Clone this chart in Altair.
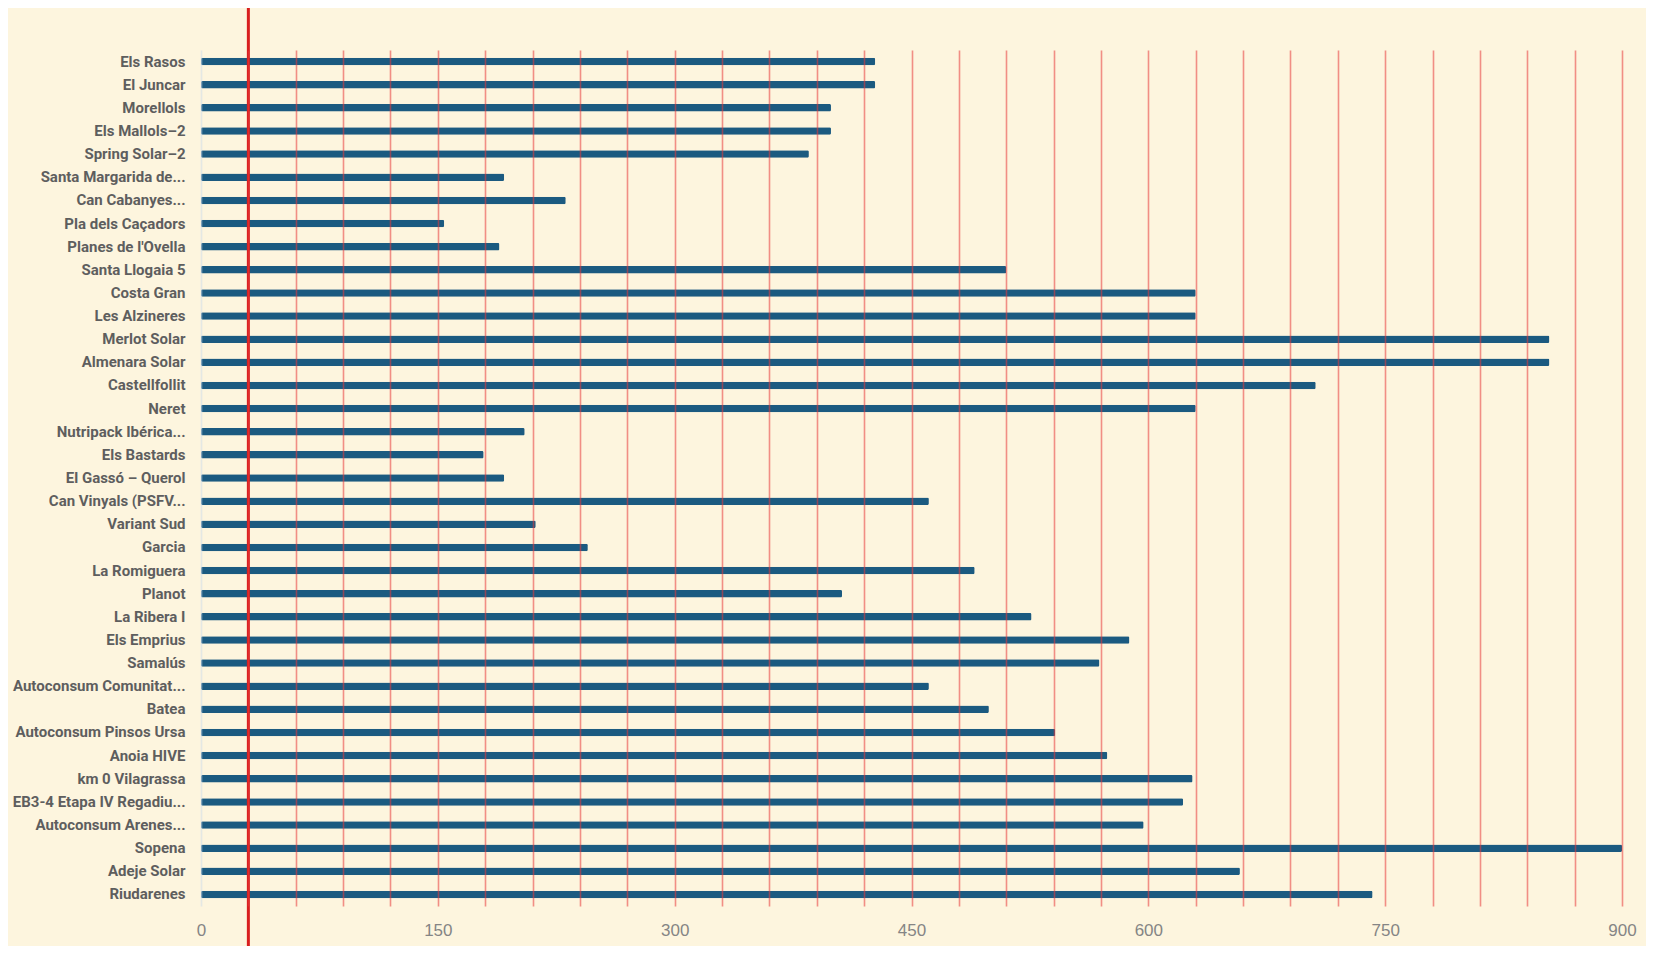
import altair as alt
import pandas as pd

plants = [
    "Els Rasos", "El Juncar", "Morellols", "Els Mallols–2", "Spring Solar–2",
    "Santa Margarida de...", "Can Cabanyes...", "Pla dels Caçadors", "Planes de l'Ovella",
    "Santa Llogaia 5", "Costa Gran", "Les Alzineres", "Merlot Solar", "Almenara Solar",
    "Castellfollit", "Neret", "Nutripack Ibérica...", "Els Bastards", "El Gassó – Querol",
    "Can Vinyals (PSFV...", "Variant Sud", "Garcia", "La Romiguera", "Planot",
    "La Ribera I", "Els Emprius", "Samalús", "Autoconsum Comunitat...", "Batea",
    "Autoconsum Pinsos Ursa", "Anoia HIVE", "km 0 Vilagrassa", "EB3-4 Etapa IV Regadiu...",
    "Autoconsum Arenes...", "Sopena", "Adeje Solar", "Riudarenes",
]
values = [
    427, 427, 399, 399, 385,
    192, 231, 154, 189,
    510, 630, 630, 854, 854,
    706, 630, 205, 179, 192,
    461, 212, 245, 490, 406,
    526, 588, 569, 461, 499,
    541, 574, 628, 622,
    597, 900, 658, 742,
]
grid_values = list(range(0, 901, 30))
threshold = [30]

df = pd.DataFrame({"plant": plants, "value": values})
tdf = pd.DataFrame({"t": threshold})

W, H = 1421, 856

bars = alt.Chart(df).mark_bar(size=7.5, color="#1b5a80", cornerRadius=1.5).encode(
    x=alt.X(
        "value:Q",
        scale=alt.Scale(domain=[0, 900], nice=False, zero=True),
        axis=alt.Axis(
            values=grid_values,
            labelExpr="datum.value % 150 === 0 ? datum.label : ''",
            grid=True,
            gridColor={"condition": {"test": "datum.value === 0", "value": "#cfdde9"}, "value": "#e8383a"},
            gridOpacity=0.55,
            gridWidth=1.6,
            ticks=False,
            domain=False,
            labelFlush=False,
            labelFontSize=17,
            labelColor="#858585",
            labelFont="Liberation Sans",
            labelPadding=16,
            title=None,
            zindex=1,
        ),
    ),
    y=alt.Y(
        "plant:N",
        sort=plants,
        axis=alt.Axis(
            title=None,
            ticks=False,
            domain=False,
            labelFontSize=15,
            labelFontWeight="bold",
            labelColor="#5e5e5e",
            labelFont="Roboto",
            labelPadding=16,
            labelLimit=400,
        ),
    ),
)

rule = alt.Chart(tdf).mark_rule(color="#d81e1e", strokeWidth=3).encode(
    x="t:Q",
    y=alt.value(-44),
    y2=alt.value(H + 50),
)

chart = (
    alt.layer(bars, rule)
    .properties(
        width=W,
        height=H,
        autosize="none",
        padding={"left": 193, "top": 42, "right": 24, "bottom": 40},
        background="#fdf5de",
    )
    .configure_view(stroke=None)
)

chart.save("out.html", embed_options={"renderer": "svg", "actions": False})
